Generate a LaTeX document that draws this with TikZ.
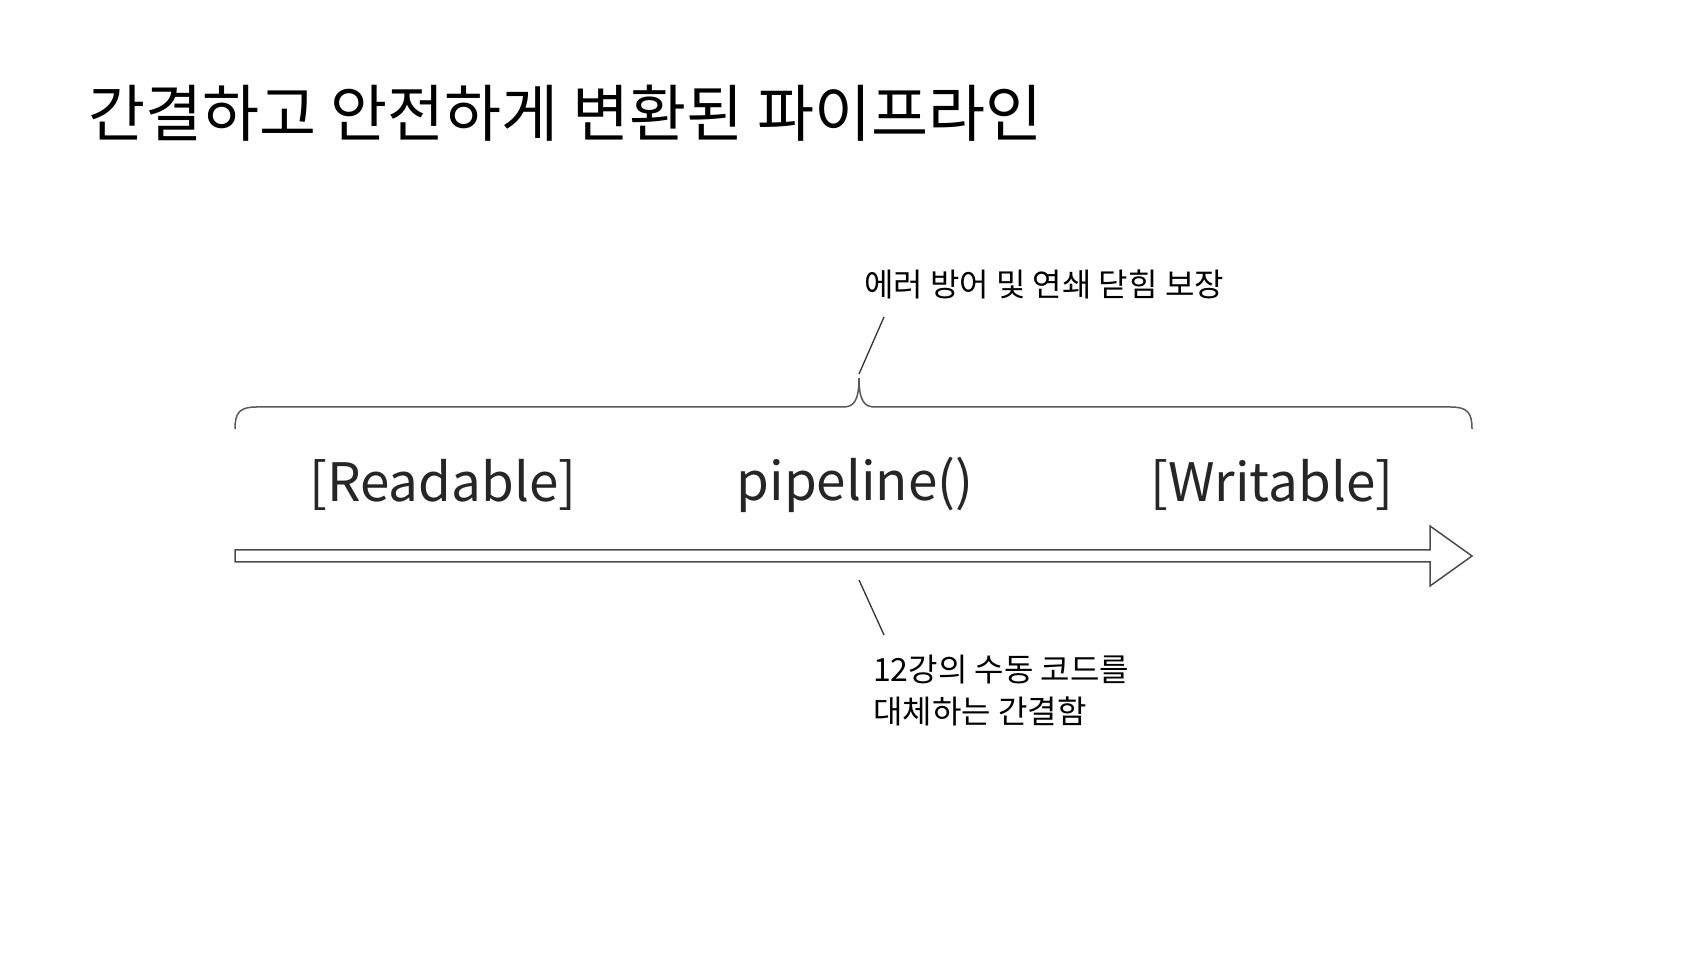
\documentclass[tikz,border=0pt]{standalone}
\usepackage{fontspec}
\setmainfont{Noto Sans CJK KR}
\usetikzlibrary{positioning}
\tikzset{
  stagetext/.style={font=\fontsize{53}{60}\selectfont, text=black!85},
  note/.style={font=\fontsize{32}{42}\selectfont, align=left, inner sep=0pt},
  leader/.style={line width=1.3pt, black!80}
}
\begin{document}
\begin{tikzpicture}[x=1pt,y=1pt]
\useasboundingbox (0,0) rectangle (1707,960);

\node[anchor=base west, inner sep=0pt, font=\fontsize{62}{70}\selectfont] (title) at (88,823) {간결하고 안전하게 변환된 파이프라인};

% brace over the stages
\draw[line width=1.5pt, black!65] (235,531) .. controls (235,548) and (240,553) .. (257,553)
  -- (843,553) .. controls (853,553) and (859,558) .. (859,582)
  .. controls (859,558) and (865,553) .. (875,553)
  -- (1450,553) .. controls (1467,553) and (1472,548) .. (1472,531);

\node[stagetext] (readable) at (443,475) {[Readable]};
\node[stagetext] (pipe) at (855,475) {pipeline()};
\node[stagetext] (writable) at (1272,475) {[Writable]};

% the flow arrow
\draw[line width=1.5pt, black!70] (235,398) -- (1430,398) -- (1430,374) -- (1472,404)
  -- (1430,434) -- (1430,410) -- (235,410) -- cycle;

\coordinate (top) at (859,586);
\coordinate (bot) at (859,380);
\node[note, anchor=west] (guard) at (864,676) {에러 방어 및 연쇄 닫힘 보장};
\node[note, anchor=north west] (short) at (873,305) {12강의 수동 코드를\\대체하는 간결함};
\draw[leader] (top) -- (884,643);
\draw[leader] (bot) -- (884,325);
\end{tikzpicture}
\end{document}
